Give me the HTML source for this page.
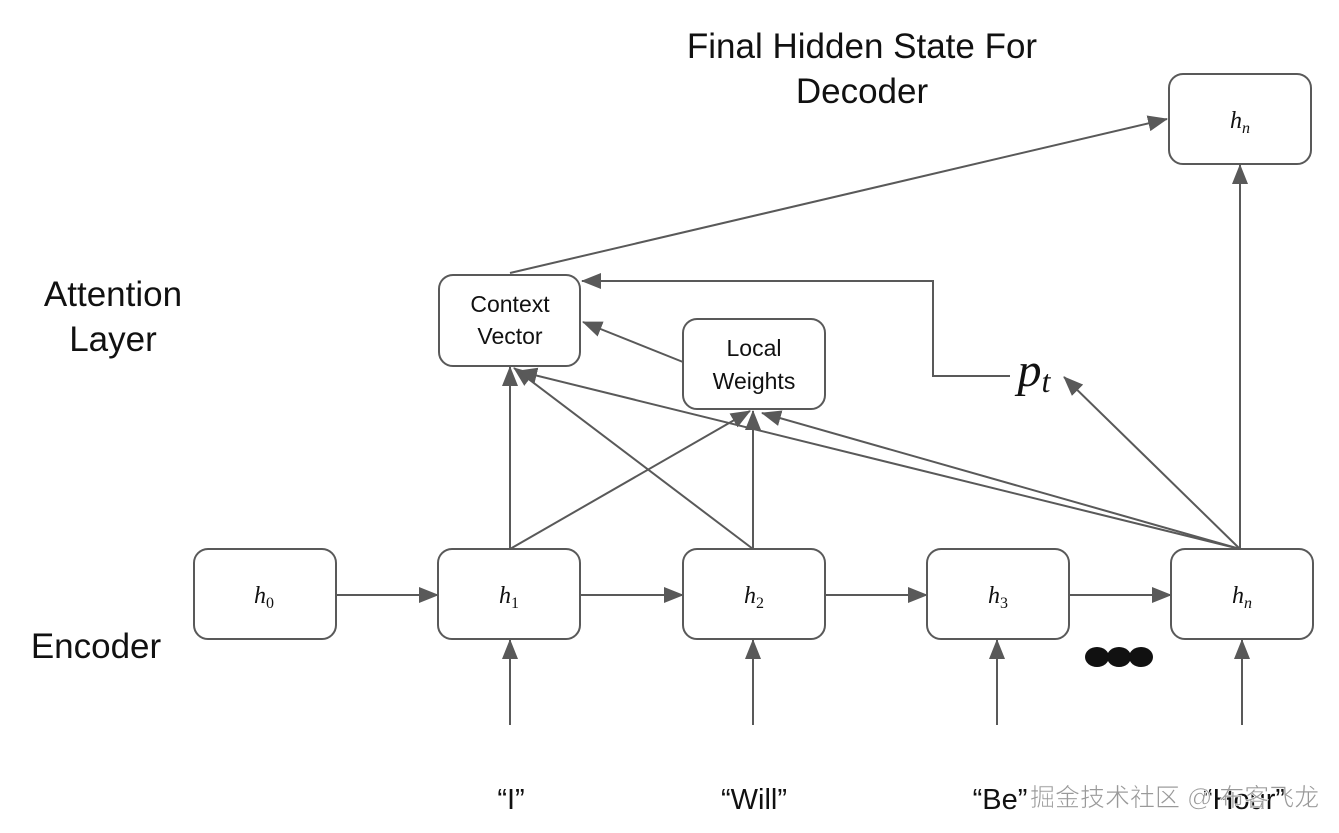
<!DOCTYPE html>
<html><head><meta charset="utf-8"><style>body{margin:0;background:#fff}svg{display:block}</style></head><body>
<svg width="1339" height="833" xmlns="http://www.w3.org/2000/svg" font-family="Liberation Sans, sans-serif">
<defs>
<marker id="b" markerWidth="20" markerHeight="16" refX="19" refY="8" orient="auto" markerUnits="userSpaceOnUse" viewBox="0 0 20 16"><path d="M0,0 L20,8 L0,16z" fill="#595959"/></marker></defs>
<g fill="#fff" stroke="#595959" stroke-width="2">
<rect x="194" y="549" width="142" height="90" rx="14"/>
<rect x="438" y="549" width="142" height="90" rx="14"/>
<rect x="683" y="549" width="142" height="90" rx="14"/>
<rect x="927" y="549" width="142" height="90" rx="14"/>
<rect x="1171" y="549" width="142" height="90" rx="14"/>
<rect x="1169" y="74" width="142" height="90" rx="14"/>
<rect x="439" y="275" width="141" height="91" rx="14"/>
<rect x="683" y="319" width="142" height="90" rx="14"/>
</g>
<g stroke="#595959" stroke-width="2" fill="none" marker-end="url(#b)">
<line x1="336" y1="595" x2="438" y2="595"/>
<line x1="580" y1="595" x2="683" y2="595"/>
<line x1="825" y1="595" x2="927" y2="595"/>
<line x1="1069" y1="595" x2="1171" y2="595"/>
<line x1="510" y1="725" x2="510" y2="640"/>
<line x1="753" y1="725" x2="753" y2="640"/>
<line x1="997" y1="725" x2="997" y2="640"/>
<line x1="1242" y1="725" x2="1242" y2="640"/>
<line x1="510" y1="549" x2="510" y2="367"/>
<line x1="510" y1="549" x2="750" y2="411"/>
<line x1="753" y1="549" x2="514" y2="368"/>
<line x1="753" y1="549" x2="753" y2="411"/>
<line x1="1240" y1="549" x2="518" y2="371"/>
<line x1="1240" y1="549" x2="762" y2="413"/>
<line x1="1240" y1="549" x2="1064" y2="377"/>
<line x1="1240" y1="549" x2="1240" y2="165"/>
<line x1="510" y1="273" x2="1167" y2="119"/>
<polyline points="1010,376 933,376 933,281 582,281"/>
<line x1="683" y1="362" x2="583" y2="322"/>
</g>
<g font-family="Liberation Serif, serif" font-style="italic" font-size="24" text-anchor="middle" fill="#111">
<text x="264" y="603">h<tspan font-size="16" dy="5" font-style="normal">0</tspan></text>
<text x="509" y="603">h<tspan font-size="16" dy="5" font-style="normal">1</tspan></text>
<text x="754" y="603">h<tspan font-size="16" dy="5" font-style="normal">2</tspan></text>
<text x="998" y="603">h<tspan font-size="16" dy="5" font-style="normal">3</tspan></text>
<text x="1242" y="603">h<tspan font-size="16" dy="5">n</tspan></text>
<text x="1240" y="128">h<tspan font-size="16" dy="5">n</tspan></text>
<text x="1034" y="386" font-size="48">p<tspan font-size="32" dy="6">t</tspan></text>
</g>
<g font-size="23" text-anchor="middle" fill="#111">
<text x="510" y="312">Context</text><text x="510" y="344">Vector</text>
<text x="754" y="356">Local</text><text x="754" y="389">Weights</text>
</g>
<g font-size="35" fill="#111" text-anchor="middle">
<text x="862" y="58">Final Hidden State For</text>
<text x="862" y="103">Decoder</text>
<text x="113" y="306">Attention</text>
<text x="113" y="351">Layer</text>
<text x="96" y="658">Encoder</text>
</g>
<g font-size="29" fill="#111" text-anchor="middle">
<text x="511" y="809">“I”</text>
<text x="754" y="809">“Will”</text>
<text x="1000" y="809">“Be”</text>
<text x="1244" y="809">“Hour”</text>
</g>
<text x="1030" y="806" font-size="25" fill="#999" stroke="#fff" stroke-width="0.6" font-family="Liberation Sans, Noto Sans CJK SC, sans-serif">掘金技术社区 @ 布客飞龙</text>
<g fill="#111"><ellipse cx="1097" cy="657" rx="12" ry="10"/><ellipse cx="1119" cy="657" rx="12" ry="10"/><ellipse cx="1141" cy="657" rx="12" ry="10"/></g>
</svg>
</body></html>
